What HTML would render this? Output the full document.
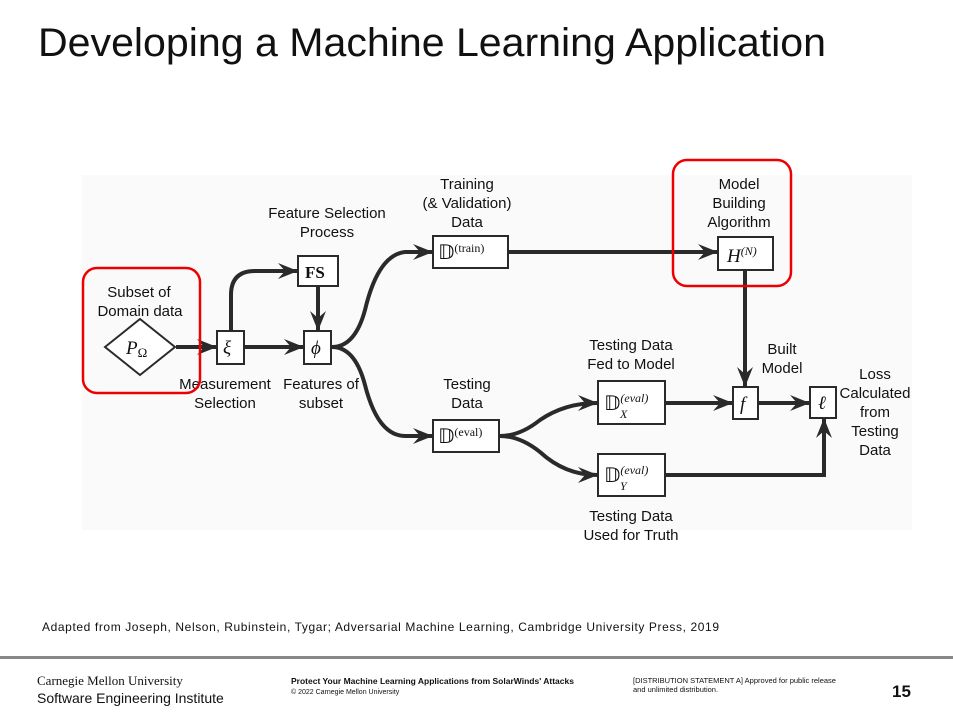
<!DOCTYPE html>
<html><head><meta charset="utf-8"><style>
body{margin:0;background:#fff;}
svg{display:block}
text{font-family:"Liberation Sans",sans-serif;fill:#111}
.s{font-family:"Liberation Serif",serif}
</style></head><body>
<svg width="953" height="715" viewBox="0 0 953 715" xmlns="http://www.w3.org/2000/svg">
<defs>
<marker id="a" viewBox="0 0 20 16" refX="19" refY="8" markerWidth="20" markerHeight="16" markerUnits="userSpaceOnUse" orient="auto">
<path d="M0,0 L20,8 L0,16 L7,8 Z" fill="#2a2a2a"/>
</marker>
</defs>
<rect x="82" y="175" width="830" height="355" fill="#fafafa"/>
<text x="38" y="56" font-size="40" textLength="788" lengthAdjust="spacingAndGlyphs">Developing a Machine Learning Application</text>

<g stroke="#2a2a2a" stroke-width="4" fill="none">
<path d="M176,347 L216,347" marker-end="url(#a)"/>
<path d="M245,347 L303,347" marker-end="url(#a)"/>
<path d="M231,330 L231,295 Q231,271 255,271 L297,271" marker-end="url(#a)"/>
<path d="M318,287 L318,330" marker-end="url(#a)"/>
<path d="M332,347 Q355,347 365,310 Q378,255 405,252 L432,252" marker-end="url(#a)"/>
<path d="M332,347 Q355,347 365,385 Q378,436 405,436 L432,436" marker-end="url(#a)"/>
<path d="M509,252 L717,252" marker-end="url(#a)"/>
<path d="M745,271 L745,386" marker-end="url(#a)"/>
<path d="M500,436 Q520,436 540,420 Q565,403 597,403" marker-end="url(#a)"/>
<path d="M500,436 Q520,436 540,452 Q565,475 597,475" marker-end="url(#a)"/>
<path d="M666,403 L732,403" marker-end="url(#a)"/>
<path d="M759,403 L809,403" marker-end="url(#a)"/>
<path d="M666,475 L824,475 L824,419" marker-end="url(#a)"/>
</g>

<g stroke="#2a2a2a" stroke-width="2" fill="#fff">
<path d="M105,347 L140,319 L175,347 L140,375 Z"/>
<rect x="217" y="331" width="27" height="33"/>
<rect x="304" y="331" width="27" height="33"/>
<rect x="298" y="256" width="40" height="30"/>
<rect x="433" y="236" width="75" height="32"/>
<rect x="433" y="420" width="66" height="32"/>
<rect x="598" y="381" width="67" height="43"/>
<rect x="598" y="454" width="67" height="42"/>
<rect x="718" y="237" width="55" height="33"/>
<rect x="733" y="387" width="25" height="32"/>
<rect x="810" y="387" width="26" height="31"/>
</g>

<g class="s" font-size="17" fill="#333">
<text class="s" x="126" y="354" font-style="italic" font-size="19">P<tspan font-size="13" font-style="normal" dy="3">Ω</tspan></text>
<text class="s" x="223" y="354" font-style="italic" font-size="19">ξ</text>
<text class="s" x="311" y="354" font-style="italic" font-size="19">ϕ</text>
<text class="s" x="305" y="278" font-weight="bold" font-size="17">FS</text>
<text class="s" x="438" y="259" font-size="20">𝔻<tspan font-size="12" dy="-7">(train)</tspan></text>
<text class="s" x="438" y="443" font-size="20">𝔻<tspan font-size="12" dy="-7">(eval)</tspan></text>
<text class="s" x="604" y="410" font-size="20">𝔻<tspan font-size="12" dy="-8" font-style="italic">(eval)</tspan></text>
<text class="s" x="620" y="418" font-size="12" font-style="italic">X</text>
<text class="s" x="604" y="482" font-size="20">𝔻<tspan font-size="12" dy="-8" font-style="italic">(eval)</tspan></text>
<text class="s" x="620" y="490" font-size="12" font-style="italic">Y</text>
<text class="s" x="727" y="262" font-size="19" font-style="italic">H<tspan font-size="12" dy="-7">(N)</tspan></text>
<text class="s" x="740" y="410" font-size="19" font-style="italic">f</text>
<text class="s" x="818" y="409" font-size="19" font-style="italic">ℓ</text>
</g>

<g font-size="15" text-anchor="middle">
<text x="139" y="297">Subset of</text>
<text x="140" y="316">Domain data</text>
<text x="225" y="389">Measurement</text>
<text x="225" y="408">Selection</text>
<text x="321" y="389">Features of</text>
<text x="321" y="408">subset</text>
<text x="327" y="218">Feature Selection</text>
<text x="327" y="237">Process</text>
<text x="467" y="189">Training</text>
<text x="467" y="208">(&amp; Validation)</text>
<text x="467" y="227">Data</text>
<text x="467" y="389">Testing</text>
<text x="467" y="408">Data</text>
<text x="739" y="189">Model</text>
<text x="739" y="208">Building</text>
<text x="739" y="227">Algorithm</text>
<text x="631" y="350">Testing Data</text>
<text x="631" y="369">Fed to Model</text>
<text x="782" y="354">Built</text>
<text x="782" y="373">Model</text>
<text x="875" y="379">Loss</text>
<text x="875" y="398">Calculated</text>
<text x="875" y="417">from</text>
<text x="875" y="436">Testing</text>
<text x="875" y="455">Data</text>
<text x="631" y="521">Testing Data</text>
<text x="631" y="540">Used for Truth</text>
</g>

<g fill="none" stroke="#e00" stroke-width="2.5">
<rect x="83" y="268" width="117" height="125" rx="14"/>
<rect x="673" y="160" width="118" height="126" rx="14"/>
</g>

<text x="42" y="631" font-size="12" textLength="677" lengthAdjust="spacing">Adapted from Joseph, Nelson, Rubinstein, Tygar; Adversarial Machine Learning, Cambridge University Press, 2019</text>

<rect x="0" y="656" width="953" height="3" fill="#888"/>
<text class="s" x="37" y="685" font-size="13" fill="#333">Carnegie Mellon University</text>
<text x="37" y="703" font-size="14" fill="#666">Software Engineering Institute</text>
<text x="291" y="684" font-size="8.5" font-weight="bold" fill="#555">Protect Your Machine Learning Applications from SolarWinds' Attacks</text>
<text x="291" y="694" font-size="7" fill="#555">© 2022 Carnegie Mellon University</text>
<text x="633" y="683" font-size="7.5" fill="#222">[DISTRIBUTION STATEMENT A] Approved for public release</text>
<text x="633" y="692" font-size="7.5" fill="#222">and unlimited distribution.</text>
<text x="892" y="697" font-size="17" font-weight="bold" fill="#444">15</text>
</svg>
</body></html>
